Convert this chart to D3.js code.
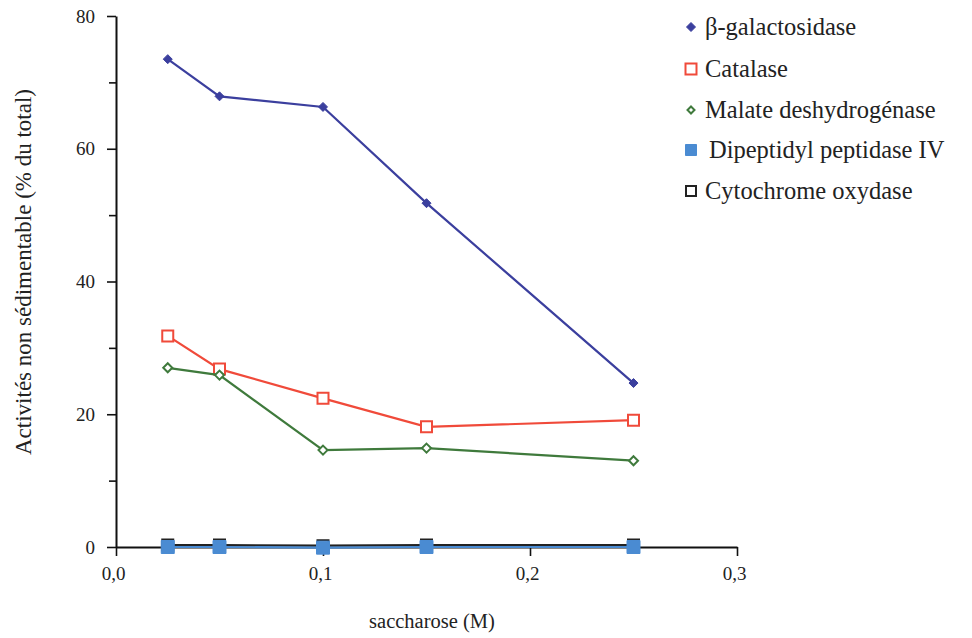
<!DOCTYPE html>
<html>
<head>
<meta charset="utf-8">
<script src="https://cdnjs.cloudflare.com/ajax/libs/d3/7.8.5/d3.min.js"></script>
<style>
body { margin: 0; background: #fff; }
</style>
</head>
<body>
<svg id="chart"></svg>
<script>
var width = 972, height = 638
var FONT = "Liberation Serif"

// données
var saccharose = [0.025, 0.05, 0.1, 0.15, 0.25]
var betaGal = [73.5, 67.9, 66.3, 51.8, 24.7]
var catalase = [31.8, 26.8, 22.4, 18.1, 19.1]
var mdh = [27.0, 25.9, 14.6, 14.9, 13.0]
var dppIV = [0, 0, -0.1, 0, 0]
var cytox = [0.3, 0.3, 0.2, 0.3, 0.3]
var yTicks = [0, 20, 40, 60, 80]
var yMinor = [10, 30, 50, 70]
var xTicks = [0, 0.1, 0.2, 0.3]

var series = [
    { name: "β-galactosidase", values: betaGal, color: "#3b3f9e", shape: "diamond", fill: true, size: 9 },
    { name: "Catalase", values: catalase, color: "#f04a3a", shape: "square", fill: false, size: 11 },
    { name: "Malate deshydrogénase", values: mdh, color: "#3f7a3c", shape: "diamond", fill: false, size: 9 },
    { name: "Cytochrome oxydase", values: cytox, color: "#222", shape: "square", fill: false, size: 11 },
    { name: "Dipeptidyl peptidase IV", values: dppIV, color: "#4a8bd2", shape: "square", fill: true, size: 13 }
]
var legendOrder = ["β-galactosidase", "Catalase", "Malate deshydrogénase", "Dipeptidyl peptidase IV", "Cytochrome oxydase"]

var svg = d3.select("#chart").attr("width", width).attr("height", height)

var x = d3.scaleLinear().domain([0, 0.3]).range([116, 737])
var y = d3.scaleLinear().domain([0, 80]).range([547, 16])

// axes
var gx = svg.append("g").attr("transform", "translate(0," + y(0) + ")")
    .call(d3.axisBottom(x).tickValues(xTicks).tickSize(9).tickSizeOuter(0)
        .tickFormat(function (d) { return d3.format(".1f")(d).replace(".", ",") }))
var gy = svg.append("g").attr("transform", "translate(" + x(0) + ",0)")
    .call(d3.axisLeft(y).tickValues(yTicks).tickSize(9).tickSizeOuter(0))
svg.append("g").attr("transform", "translate(" + x(0) + ",0)")
    .call(d3.axisLeft(y).tickValues(yMinor).tickSize(7).tickSizeOuter(0).tickFormat(""))
    .select(".domain").remove()

svg.selectAll(".domain").attr("stroke", "#111").attr("stroke-width", 2)
svg.selectAll(".tick line").attr("stroke", "#111").attr("stroke-width", 1.6)
gx.selectAll("text").attr("y", 20).attr("x", -3).attr("font-size", 19)
gy.selectAll("text").attr("x", -21).attr("font-size", 19)

svg.append("text")
    .attr("x", 432).attr("y", 628)
    .attr("text-anchor", "middle").attr("font-size", 20.5)
    .text("saccharose (M)")
svg.append("text")
    .attr("transform", "translate(31,272) rotate(-90)")
    .attr("text-anchor", "middle").attr("font-size", 23)
    .text("Activités non sédimentable (% du total)")

function markerPath(shape, size) {
    var h = size / 2
    if (shape == "diamond") {
        return "M0," + (-h) + "L" + h + ",0L0," + h + "L" + (-h) + ",0Z"
    }
    return "M" + (-h) + "," + (-h) + "H" + h + "V" + h + "H" + (-h) + "Z"
}

var line = d3.line()
    .x(function (d) { return x(d[0]) })
    .y(function (d) { return y(d[1]) })

series.forEach(function (s) {
    var pts = saccharose.map(function (v, i) { return [v, s.values[i]] })
    svg.append("path")
        .attr("d", line(pts))
        .attr("fill", "none")
        .attr("stroke", s.color)
        .attr("stroke-width", 2.2)
    svg.append("g").selectAll("path")
        .data(pts)
        .enter().append("path")
        .attr("transform", function (d) { return "translate(" + x(d[0]) + "," + y(d[1]) + ")" })
        .attr("d", markerPath(s.shape, s.size))
        .attr("fill", s.fill ? s.color : "#fff")
        .attr("stroke", s.color)
        .attr("stroke-width", s.fill ? 1 : 2)
})

// légende
var legendSizes = { "β-galactosidase": 9, "Catalase": 11, "Malate deshydrogénase": 7, "Dipeptidyl peptidase IV": 11, "Cytochrome oxydase": 10 }
var legY = [27, 69, 110, 150, 191]
legendOrder.forEach(function (name, i) {
    var s = series.filter(function (d) { return d.name == name })[0]
    var g = svg.append("g").attr("transform", "translate(691," + legY[i] + ")")
    g.append("path")
        .attr("d", markerPath(s.shape, legendSizes[name]))
        .attr("fill", s.fill ? s.color : "#fff")
        .attr("stroke", s.color)
        .attr("stroke-width", s.fill ? 1 : 2)
    g.append("text")
        .attr("x", name == "Dipeptidyl peptidase IV" ? 18 : 14)
        .attr("y", 8)
        .attr("font-size", 24.5)
        .text(name)
})

// police sur chaque texte
svg.selectAll("text").attr("font-family", FONT).attr("fill", "#222")
</script>
</body>
</html>
